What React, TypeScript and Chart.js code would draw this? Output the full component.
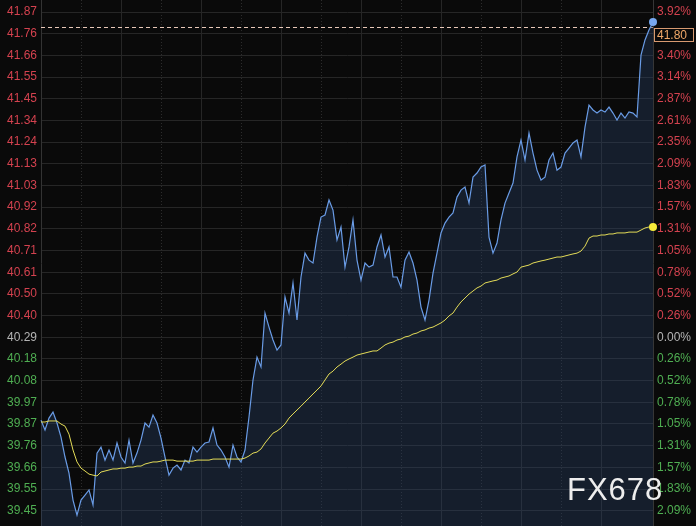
import { useEffect, useRef } from "react";
import { Chart, registerables } from "chart.js";

Chart.register(...registerables);

// Intraday price (one reading every ~4px of the original picture)
const priceValues: number[] = [
  39.890, 39.842, 39.900, 39.929, 39.876, 39.808, 39.711, 39.633, 39.502, 39.429,
  39.502, 39.526, 39.551, 39.478, 39.730, 39.759, 39.696, 39.745, 39.696, 39.779,
  39.711, 39.682, 39.793, 39.682, 39.730, 39.793, 39.876, 39.856, 39.915, 39.876,
  39.803, 39.711, 39.623, 39.657, 39.672, 39.648, 39.696, 39.682, 39.759, 39.735,
  39.759, 39.779, 39.784, 39.852, 39.769, 39.745, 39.711, 39.662, 39.769, 39.711,
  39.687, 39.745, 39.905, 40.085, 40.196, 40.148, 40.410, 40.342, 40.279, 40.230,
  40.255, 40.488, 40.410, 40.556, 40.376, 40.585, 40.701, 40.667, 40.653, 40.779,
  40.876, 40.886, 40.959, 40.910, 40.765, 40.828, 40.633, 40.731, 40.862, 40.667,
  40.570, 40.653, 40.633, 40.643, 40.731, 40.789, 40.682, 40.731, 40.585, 40.585,
  40.536, 40.667, 40.706, 40.653, 40.570, 40.439, 40.376, 40.473, 40.604, 40.701,
  40.799, 40.847, 40.876, 40.896, 40.973, 41.007, 41.022, 40.944, 41.070, 41.090,
  41.119, 41.129, 40.779, 40.701, 40.750, 40.862, 40.944, 40.993, 41.041, 41.168,
  41.250, 41.153, 41.284, 41.187, 41.104, 41.056, 41.070, 41.153, 41.187, 41.104,
  41.119, 41.187, 41.211, 41.236, 41.250, 41.168, 41.313, 41.420, 41.396, 41.381,
  41.396, 41.386, 41.410, 41.381, 41.347, 41.381, 41.357, 41.386, 41.381, 41.362,
  41.663, 41.736, 41.784, 41.823,
];

// Average price line
const averageValues: number[] = [
  39.881, 39.881, 39.886, 39.886, 39.886, 39.871, 39.861, 39.822, 39.745, 39.687,
  39.657, 39.643, 39.628, 39.623, 39.619, 39.638, 39.643, 39.648, 39.653, 39.653,
  39.657, 39.657, 39.662, 39.662, 39.667, 39.667, 39.677, 39.682, 39.687, 39.687,
  39.691, 39.696, 39.696, 39.696, 39.691, 39.691, 39.691, 39.691, 39.691, 39.696,
  39.696, 39.696, 39.696, 39.701, 39.701, 39.701, 39.701, 39.701, 39.701, 39.701,
  39.701, 39.706, 39.716, 39.730, 39.735, 39.750, 39.779, 39.803, 39.827, 39.837,
  39.852, 39.871, 39.900, 39.920, 39.939, 39.958, 39.978, 39.997, 40.017, 40.036,
  40.056, 40.085, 40.114, 40.128, 40.148, 40.162, 40.177, 40.187, 40.196, 40.206,
  40.211, 40.216, 40.221, 40.226, 40.226, 40.240, 40.255, 40.264, 40.269, 40.279,
  40.284, 40.294, 40.298, 40.308, 40.313, 40.323, 40.328, 40.337, 40.342, 40.352,
  40.362, 40.376, 40.396, 40.410, 40.439, 40.464, 40.483, 40.502, 40.517, 40.532,
  40.541, 40.556, 40.561, 40.566, 40.570, 40.580, 40.585, 40.590, 40.600, 40.609,
  40.633, 40.638, 40.643, 40.653, 40.658, 40.663, 40.667, 40.672, 40.677, 40.682,
  40.682, 40.687, 40.692, 40.697, 40.701, 40.711, 40.735, 40.774, 40.784, 40.784,
  40.789, 40.789, 40.794, 40.794, 40.799, 40.799, 40.799, 40.803, 40.803, 40.803,
  40.813, 40.823, 40.828, 40.828,
];

// Axis tick labels, top to bottom
const leftTickLabels: string[] = [
  "41.87", "41.76", "41.66", "41.55", "41.45", "41.34", "41.24", "41.13",
  "41.03", "40.92", "40.82", "40.71", "40.61", "40.50", "40.40", "40.29",
  "40.18", "40.08", "39.97", "39.87", "39.76", "39.66", "39.55", "39.45",
];
const rightTickLabels: string[] = [
  "3.92%", "3.66%", "3.40%", "3.14%", "2.87%", "2.61%", "2.35%", "2.09%",
  "1.83%", "1.57%", "1.31%", "1.05%", "0.78%", "0.52%", "0.26%", "0.00%",
  "0.26%", "0.52%", "0.78%", "1.05%", "1.31%", "1.57%", "1.83%", "2.09%",
];

const BASE_PRICE = 40.2925; // previous close, 0.00%
const TICK_STEP = 0.10528;
const TICKS_ABOVE = 15;
const Y_MIN = 39.376;
const Y_MAX = 41.93;
const LAST_PRICE = 41.8;
const LAST_PRICE_LABEL = "41.80";
const WATERMARK = "FX678";
const MAJOR_TIME_TICKS = [20, 40, 60, 80, 100, 120, 140];
const MINOR_TIME_TICKS = [10, 30, 50, 70, 90, 110, 130];

const RED = "#d4424f";
const GREEN = "#4fae52";
const NEUTRAL = "#b4b4b4";
const FONT = 'Arial, "Liberation Sans", sans-serif';

const tickIndex = (v: number) => Math.round((v - BASE_PRICE) / TICK_STEP);
const tickColor = (ctx: any) => {
  const k = tickIndex(ctx.tick.value);
  return k > 0 ? RED : k < 0 ? GREEN : NEUTRAL;
};
const buildPriceTicks = (scale: any) => {
  scale.ticks = leftTickLabels
    .map((_, i) => ({ value: BASE_PRICE + (TICKS_ABOVE - i) * TICK_STEP }))
    .reverse();
};

export default function App() {
  const canvasRef = useRef<HTMLCanvasElement | null>(null);

  useEffect(() => {
    const canvas = canvasRef.current;
    if (!canvas) return;
    const lastIdx = priceValues.length - 1;

    const overlayPlugin = {
      id: "priceOverlay",
      beforeDatasetsDraw(chart: any) {
        const { ctx, chartArea } = chart;
        const y = Math.round(chart.scales.y.getPixelForValue(LAST_PRICE)) + 0.5;
        ctx.save();
        ctx.strokeStyle = "#e8c8b8";
        ctx.lineWidth = 1;
        ctx.setLineDash([4, 3]);
        ctx.beginPath();
        ctx.moveTo(chartArea.left, y);
        ctx.lineTo(chartArea.right, y);
        ctx.stroke();
        ctx.restore();
      },
      afterDraw(chart: any) {
        const { ctx, chartArea, width, height } = chart;
        const y = Math.round(chart.scales.y.getPixelForValue(LAST_PRICE));
        ctx.save();
        const bx = chartArea.right + 1;
        const by = y + 1;
        const bw = 40;
        const bh = 14;
        ctx.fillStyle = "#0a0a0a";
        ctx.fillRect(bx, by, bw, bh);
        ctx.strokeStyle = "#d89a70";
        ctx.lineWidth = 1;
        ctx.strokeRect(bx + 0.5, by + 0.5, bw - 1, bh - 1);
        ctx.fillStyle = "#f0a868";
        ctx.font = `12px ${FONT}`;
        ctx.textBaseline = "middle";
        ctx.textAlign = "left";
        ctx.fillText(LAST_PRICE_LABEL, bx + 3, by + bh / 2 + 0.5);

        ctx.fillStyle = "#ededed";
        ctx.font = `31px ${FONT}`;
        (ctx as any).letterSpacing = "1px";
        ctx.textBaseline = "alphabetic";
        ctx.fillText(WATERMARK, width - 129, height - 26);
        ctx.restore();
      },
    };

    const chart = new Chart(canvas, {
      type: "line",
      data: {
        datasets: [
          {
            label: "均价",
            data: averageValues.map((v, i) => ({ x: i, y: v })),
            borderColor: "#e4dc58",
            borderWidth: 1,
            pointRadius: (c: any) => (c.dataIndex === lastIdx ? 4 : 0),
            pointBackgroundColor: "#f7ec3a",
            pointBorderWidth: 0,
            fill: false,
            tension: 0,
            order: 0,
            clip: false as any,
            xAxisID: "x",
            yAxisID: "y",
          },
          {
            label: "价格",
            data: priceValues.map((v, i) => ({ x: i, y: v })),
            borderColor: "#6a9ce6",
            borderWidth: 1.2,
            pointRadius: (c: any) => (c.dataIndex === lastIdx ? 4 : 0),
            pointBackgroundColor: "#78a8f0",
            pointBorderWidth: 0,
            fill: "start",
            backgroundColor: "rgba(42, 64, 104, 0.37)",
            tension: 0,
            order: 1,
            clip: false as any,
            xAxisID: "x",
            yAxisID: "y",
          },
        ],
      },
      options: {
        animation: false,
        responsive: false,
        events: [],
        layout: { padding: 0, autoPadding: false },
        plugins: { legend: { display: false }, tooltip: { enabled: false } },
        scales: {
          x: {
            type: "linear",
            min: 0,
            max: lastIdx,
            ticks: { display: false },
            grid: { color: "#262626", drawTicks: false },
            border: { display: false },
            afterBuildTicks: (s: any) => {
              s.ticks = MAJOR_TIME_TICKS.map((v) => ({ value: v }));
            },
            afterFit: (s: any) => {
              s.height = 0;
            },
          },
          x2: {
            type: "linear",
            position: "bottom",
            min: 0,
            max: lastIdx,
            ticks: { display: false },
            grid: { color: "#2c2c2c", drawTicks: false },
            border: { display: false, dash: [1, 2] },
            afterBuildTicks: (s: any) => {
              s.ticks = MINOR_TIME_TICKS.map((v) => ({ value: v }));
            },
            afterFit: (s: any) => {
              s.height = 0;
            },
          },
          y: {
            type: "linear",
            position: "left",
            min: Y_MIN,
            max: Y_MAX,
            afterBuildTicks: buildPriceTicks,
            ticks: {
              autoSkip: false,
              padding: 4,
              color: tickColor,
              font: { family: FONT, size: 12 },
              callback: (v: any) => leftTickLabels[TICKS_ABOVE - tickIndex(Number(v))],
            },
            grid: { color: "#262626", drawTicks: false },
            border: { display: true, color: "#333333" },
            afterFit: (s: any) => {
              s.width = 41;
              s.paddingTop = 0;
              s.paddingBottom = 0;
            },
          },
          y2: {
            type: "linear",
            position: "right",
            min: Y_MIN,
            max: Y_MAX,
            afterBuildTicks: buildPriceTicks,
            ticks: {
              autoSkip: false,
              padding: 4,
              color: tickColor,
              font: { family: FONT, size: 12 },
              callback: (v: any) => rightTickLabels[TICKS_ABOVE - tickIndex(Number(v))],
            },
            grid: { display: false, drawTicks: false },
            border: { display: true, color: "#363636" },
            afterFit: (s: any) => {
              s.width = 43;
              s.paddingTop = 0;
              s.paddingBottom = 0;
            },
          },
        },
      },
      plugins: [overlayPlugin],
    } as any);

    return () => chart.destroy();
  }, []);

  return (
    <div
      style={{
        position: "fixed",
        left: 0,
        top: 0,
        width: 696,
        height: 526,
        background: "#0a0a0a",
      }}
    >
      <canvas ref={canvasRef} width={696} height={526} style={{ display: "block" }} />
    </div>
  );
}
